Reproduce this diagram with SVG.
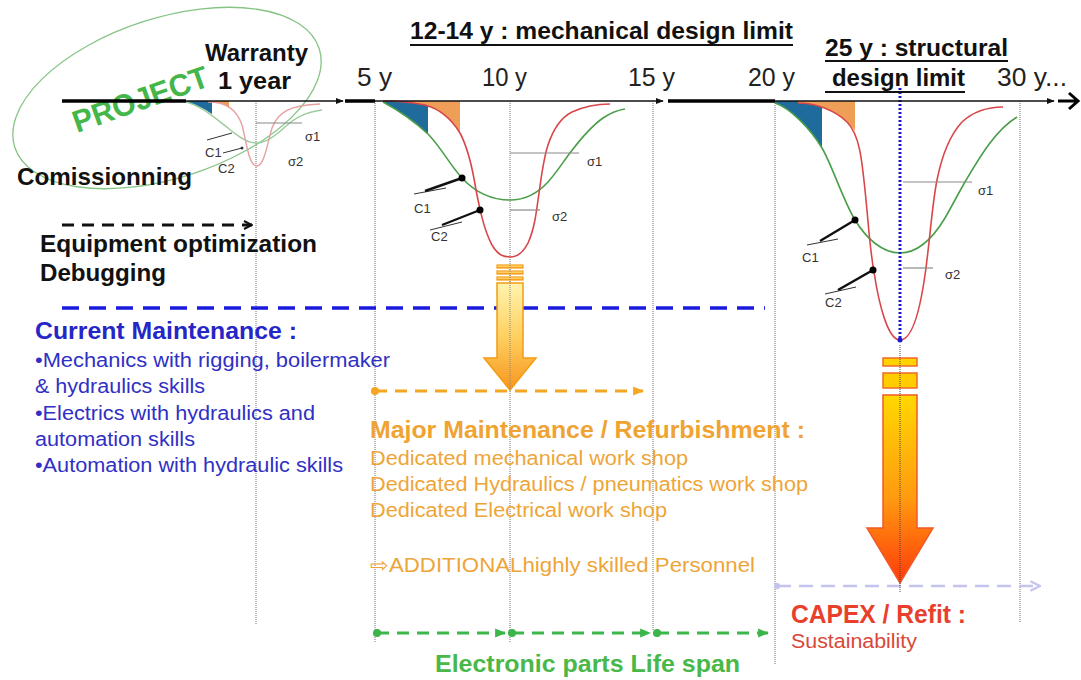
<svg xmlns="http://www.w3.org/2000/svg" width="1081" height="680" viewBox="0 0 1081 680">
<style>
text{font-family:"Liberation Sans",Arial,sans-serif}
.b{font-weight:bold}
.ax{font-size:25px;fill:#222}
.hd{font-size:24px;font-weight:bold;fill:#111}
.bl{font-size:20px;fill:#3030c4}
.or{font-size:20px;fill:#eea538}
.sm{font-size:13px;fill:#333}
.grid{stroke:#a8a8a8;stroke-width:1.6;stroke-dasharray:1 1;fill:none}
.gc{fill:none;stroke:#4a9e4a;stroke-width:1.6}
.rc{fill:none;stroke:#d9474a;stroke-width:1.6}
.gcl{fill:none;stroke:#9ccc9c;stroke-width:1.4}
.rcl{fill:none;stroke:#e6a0a0;stroke-width:1.4}
.sig{stroke:#8a8a8a;stroke-width:1.2}
.cth{stroke:#111;stroke-width:2.4}
.ctn{stroke:#333;stroke-width:1}
.blu{fill:#1f6b9c}
.ora{fill:#ef9e58}
.tl{stroke:#111;stroke-width:1.6}
.tk{stroke:#000;stroke-width:3.5}
</style>
<defs>
<linearGradient id="g1" x1="0" y1="0" x2="0" y2="1">
<stop offset="0" stop-color="#fff4b0"/><stop offset="0.5" stop-color="#ffd060"/><stop offset="1" stop-color="#f7951f"/>
</linearGradient>
<linearGradient id="g2" x1="0" y1="0" x2="0" y2="1">
<stop offset="0" stop-color="#ffd800"/><stop offset="0.55" stop-color="#ff9a10"/><stop offset="1" stop-color="#ff3a0a"/>
</linearGradient>
<marker id="aK" viewBox="0 0 10 10" refX="9" refY="5" markerWidth="10" markerHeight="10" markerUnits="userSpaceOnUse" orient="auto"><path d="M1,1 L9,5 L1,9" fill="none" stroke="#111" stroke-width="2"/></marker>
<marker id="aT" viewBox="0 0 10 10" refX="9" refY="5" markerWidth="8" markerHeight="8" markerUnits="userSpaceOnUse" orient="auto"><path d="M0,1 L10,5 L0,9 z" fill="#111"/></marker>
<marker id="aO" viewBox="0 0 10 10" refX="9" refY="5" markerWidth="11" markerHeight="11" markerUnits="userSpaceOnUse" orient="auto"><path d="M0,1 L10,5 L0,9 z" fill="#f5a623"/></marker>
<marker id="aG" viewBox="0 0 10 10" refX="9" refY="5" markerWidth="11" markerHeight="11" markerUnits="userSpaceOnUse" orient="auto"><path d="M0,1 L10,5 L0,9 z" fill="#3cb54a"/></marker>
<marker id="aL" viewBox="0 0 10 10" refX="9" refY="5" markerWidth="12" markerHeight="12" markerUnits="userSpaceOnUse" orient="auto"><path d="M1,1 L9,5 L1,9" fill="none" stroke="#c4c4ee" stroke-width="2"/></marker>
<marker id="dO" viewBox="0 0 10 10" refX="5" refY="5" markerWidth="9" markerHeight="9" markerUnits="userSpaceOnUse"><circle cx="5" cy="5" r="4.5" fill="#f5a623"/></marker>
<marker id="dG" viewBox="0 0 10 10" refX="5" refY="5" markerWidth="9" markerHeight="9" markerUnits="userSpaceOnUse"><circle cx="5" cy="5" r="4.5" fill="#3cb54a"/></marker>
<marker id="dL" viewBox="0 0 10 10" refX="5" refY="5" markerWidth="7" markerHeight="7" markerUnits="userSpaceOnUse"><circle cx="5" cy="5" r="4.5" fill="#c4c4ee"/></marker>
</defs>
<rect width="1081" height="680" fill="#fff"/>

<g id="gridlines">
<line class="grid" x1="256" y1="101" x2="256" y2="625"/>
<line class="grid" x1="375" y1="101" x2="375" y2="642"/>
<line class="grid" x1="510" y1="101" x2="510" y2="642"/>
<line class="grid" x1="653" y1="101" x2="653" y2="630"/>
<line class="grid" x1="775" y1="101" x2="775" y2="665"/>
<line class="grid" x1="1020" y1="101" x2="1020" y2="622"/>
</g>

<g id="project">
<ellipse cx="167" cy="98" rx="160" ry="80" transform="rotate(-18 167 98)" fill="none" stroke="#86c486" stroke-width="1.3"/>
<text class="b" font-size="31" fill="#45b649" transform="translate(77,133) rotate(-19.5)" textLength="142" lengthAdjust="spacingAndGlyphs">PROJECT</text>
</g>

<g id="curves-small">
<path class="blu" d="M186,101 L212,101 L212,114 C205,109 195,104 186,102 Z"/>
<path class="ora" d="M212,101 L229,101 L229,108 C224,104 218,102 212,102 Z"/>
<path class="gcl" d="M186,102 C200,105 215,118 228,128 C240,138 248,143 256,143 C266,143 275,136 285,127 C295,118 305,112 322,110"/>
<path class="rcl" d="M208,102 C225,102 236,108 242,125 C247,145 249,166 257,166 C264,166 267,145 272,128 C278,112 290,105 320,104"/>
<line class="sig" x1="256" y1="123" x2="302" y2="123"/>
<line class="ctn" x1="207" y1="140" x2="232" y2="133"/>
<line class="ctn" x1="223" y1="153" x2="242" y2="148"/>
<circle cx="242" cy="148" r="1.5" fill="#333"/>
<text class="sm" x="305" y="141" font-size="12">σ1</text>
<text class="sm" x="288" y="166" font-size="12">σ2</text>
<text class="sm" x="205" y="157" font-size="12">C1</text>
<text class="sm" x="218" y="173" font-size="12">C2</text>
</g>

<g id="curves-mid">
<path class="blu" d="M383,101 L428,101 L428,134 C415,122 398,110 383,102 Z"/>
<path class="ora" d="M407,101 L460,101 L460,133 C452,120 440,109 425,105 C415,103 410,102 407,101.5 Z"/>
<path class="gc" d="M383,102 C398,110 415,122 428,134 C440,146 450,165 462,178 C475,192 492,200 510,200 C525,200 537,194 548,182 C557,172 563,162 570,153 C582,137 593,125 603,118 C612,112 618,110 625,109"/>
<path class="rc" d="M383,101 C400,101 410,102 425,105 C440,109 452,120 460,133 C468,148 472,165 476,190 C480,210 484,230 492,245 C498,255 503,257 510,257 C517,257 523,253 528,243 C534,230 536,215 538,200 C541,180 543,160 548,145 C553,130 560,118 572,112 C585,106 598,104 610,104"/>
<line class="sig" x1="510" y1="153" x2="579" y2="153"/>
<line class="sig" x1="510" y1="210" x2="540" y2="210"/>
<line class="ctn" x1="414" y1="194" x2="446" y2="188"/>
<line class="cth" x1="425" y1="191" x2="462" y2="178"/>
<circle cx="462" cy="178" r="3.5" fill="#000"/>
<line class="ctn" x1="430" y1="230" x2="462" y2="222"/>
<line class="cth" x1="442" y1="225" x2="480" y2="210"/>
<circle cx="480" cy="210" r="3.5" fill="#000"/>
<text class="sm" x="587" y="166">σ1</text>
<text class="sm" x="552" y="221">σ2</text>
<text class="sm" x="414" y="213">C1</text>
<text class="sm" x="431" y="241">C2</text>
</g>

<g id="curves-large">
<path class="blu" d="M775,101 L822,101 L822,148 C810,128 790,108 775,103 Z"/>
<path class="ora" d="M798,101 L855,101 L855,131 C852,127 850,125 847,122 C835,110 815,103 798,103 Z"/>
<path class="gc" d="M775,103 C790,108 810,128 822,148 C832,165 843,200 855,220 C866,238 882,253 900,253 C918,253 933,238 945,218 C952,206 958,194 965,182 C978,160 995,130 1017,117"/>
<path class="rc" d="M798,103 C815,103 835,110 847,122 C860,135 862,160 866,200 C869,230 870,250 874,272 C879,305 888,340 900,340 C912,340 920,310 925,275 C930,240 932,205 937,180 C942,155 950,135 962,122 C975,110 990,107 1003,107"/>
<line class="sig" x1="903" y1="182" x2="972" y2="182"/>
<line class="sig" x1="903" y1="268" x2="933" y2="268"/>
<line x1="900" y1="88" x2="900" y2="340" stroke="#1a1ad0" stroke-width="3" stroke-dasharray="2 2"/>
<circle cx="900" cy="340" r="2.5" fill="#1a1ad0"/>
<line class="ctn" x1="807" y1="245" x2="838" y2="239"/>
<line class="cth" x1="820" y1="241" x2="855" y2="220"/>
<circle cx="855" cy="220" r="3.5" fill="#000"/>
<line class="ctn" x1="825" y1="294" x2="856" y2="287"/>
<line class="cth" x1="838" y1="290" x2="873" y2="270"/>
<circle cx="873" cy="270" r="3.5" fill="#000"/>
<text class="sm" x="978" y="195">σ1</text>
<text class="sm" x="945" y="279">σ2</text>
<text class="sm" x="802" y="262">C1</text>
<text class="sm" x="825" y="307">C2</text>
</g>

<g id="connectors">
<line class="tk" x1="62" y1="101" x2="186" y2="101"/>
<line class="tl" x1="186" y1="101" x2="343" y2="101" marker-end="url(#aT)"/>
<line class="tk" x1="345" y1="101" x2="375" y2="101"/>
<line class="tl" x1="375" y1="101" x2="663" y2="101" marker-end="url(#aT)"/>
<line class="tk" x1="668" y1="101" x2="775" y2="101"/>
<line class="tl" x1="775" y1="101" x2="1054" y2="101" marker-end="url(#aT)"/>
<path d="M1058,101 L1078,101 M1069,93 L1078,101 L1069,109" fill="none" stroke="#000" stroke-width="3"/>
<line x1="62" y1="225" x2="252" y2="225" stroke="#111" stroke-width="3" stroke-dasharray="12 8" marker-end="url(#aK)"/>
<line x1="62" y1="308" x2="765" y2="308" stroke="#1a1adc" stroke-width="3.5" stroke-dasharray="17 10"/>
<line x1="375" y1="391" x2="643" y2="391" stroke="#f5a623" stroke-width="3" stroke-dasharray="12 8" marker-start="url(#dO)" marker-end="url(#aO)"/>
<line x1="377" y1="633" x2="505" y2="633" stroke="#3cb54a" stroke-width="3" stroke-dasharray="12 8" marker-start="url(#dG)" marker-end="url(#aG)"/>
<line x1="512" y1="633" x2="650" y2="633" stroke="#3cb54a" stroke-width="3" stroke-dasharray="12 8" marker-start="url(#dG)" marker-end="url(#aG)"/>
<line x1="657" y1="633" x2="768" y2="633" stroke="#3cb54a" stroke-width="3" stroke-dasharray="12 8" marker-start="url(#dG)" marker-end="url(#aG)"/>
<line x1="777" y1="586" x2="1040" y2="586" stroke="#c4c4ee" stroke-width="2.5" stroke-dasharray="14 8" marker-start="url(#dL)" marker-end="url(#aL)"/>
</g>

<g id="arrow-mid">
<rect x="497" y="265" width="26" height="3" fill="url(#g1)" stroke="#f39c12" stroke-width="1.2"/>
<rect x="497" y="271" width="26" height="3" fill="url(#g1)" stroke="#f39c12" stroke-width="1.2"/>
<rect x="497" y="277" width="26" height="3" fill="url(#g1)" stroke="#f39c12" stroke-width="1.2"/>
<path d="M497,283 L523,283 L523,358 L536,358 L510,390 L484,358 L497,358 Z" fill="url(#g1)" stroke="#f39c12" stroke-width="1.5"/>
<line x1="510" y1="265" x2="510" y2="390" stroke="#888" stroke-width="1" stroke-dasharray="1 1"/>
</g>

<g id="arrow-large">
<rect x="883" y="358" width="34" height="8" fill="#ffd200" stroke="#f06a28" stroke-width="1.5"/>
<rect x="883" y="373" width="34" height="15" fill="#ffcc00" stroke="#f06a28" stroke-width="1.5"/>
<path d="M883,395 L917,395 L917,528 L933,528 L900,583 L867,528 L883,528 Z" fill="url(#g2)" stroke="#f05a28" stroke-width="1.5"/>
<line x1="900" y1="345" x2="900" y2="593" stroke="#444" stroke-width="1" stroke-dasharray="1 1"/>
</g>

<g id="title-mech">
<text class="hd" font-size="23" x="410" y="39" textLength="383" lengthAdjust="spacingAndGlyphs">12-14 y : mechanical design limit</text>
<line x1="410" y1="45" x2="793" y2="45" stroke="#111" stroke-width="2"/>
</g>
<g id="title-struct">
<text class="hd" font-size="23" x="825" y="56" textLength="183" lengthAdjust="spacingAndGlyphs">25 y : structural</text>
<line x1="825" y1="61" x2="1008" y2="61" stroke="#111" stroke-width="2"/>
<text class="hd" font-size="23" x="832" y="86" textLength="133" lengthAdjust="spacingAndGlyphs">design limit</text>
<line x1="825" y1="92" x2="965" y2="92" stroke="#111" stroke-width="2"/>
</g>

<g id="axis-labels">
<text class="ax" x="357" y="86" textLength="35" lengthAdjust="spacingAndGlyphs">5 y</text>
<text class="ax" x="482" y="86" textLength="45" lengthAdjust="spacingAndGlyphs">10 y</text>
<text class="ax" x="628" y="86" textLength="47" lengthAdjust="spacingAndGlyphs">15 y</text>
<text class="ax" x="748" y="86" textLength="47" lengthAdjust="spacingAndGlyphs">20 y</text>
<text class="ax" x="997" y="86" textLength="70" lengthAdjust="spacingAndGlyphs">30 y...</text>
</g>

<g id="warranty">
<text class="hd" font-size="25" x="205" y="61" textLength="103" lengthAdjust="spacingAndGlyphs">Warranty</text>
<text class="hd" font-size="25" x="218" y="89" textLength="73" lengthAdjust="spacingAndGlyphs">1 year</text>
</g>
<g id="commissioning">
<text class="hd" x="17" y="185" textLength="175" lengthAdjust="spacingAndGlyphs">Comissionning</text>
</g>
<g id="optimization">
<text class="hd" x="40" y="252" textLength="277" lengthAdjust="spacingAndGlyphs">Equipment optimization</text>
<text class="hd" x="40" y="281" textLength="126" lengthAdjust="spacingAndGlyphs">Debugging</text>
</g>

<g id="current-maintenance">
<text class="b" font-size="24" fill="#2525c8" x="35" y="339" textLength="262" lengthAdjust="spacingAndGlyphs">Current Maintenance :</text>
<text class="bl" x="35" y="367" textLength="355" lengthAdjust="spacingAndGlyphs">•Mechanics with rigging, boilermaker</text>
<text class="bl" x="35" y="393" textLength="170" lengthAdjust="spacingAndGlyphs">&amp; hydraulics skills</text>
<text class="bl" x="35" y="420" textLength="280" lengthAdjust="spacingAndGlyphs">•Electrics with hydraulics and</text>
<text class="bl" x="35" y="446" textLength="160" lengthAdjust="spacingAndGlyphs">automation skills</text>
<text class="bl" x="35" y="472" textLength="308" lengthAdjust="spacingAndGlyphs">•Automation with hydraulic skills</text>
</g>

<g id="major-maintenance">
<text class="b" font-size="23" fill="#efa332" x="370" y="438" textLength="435" lengthAdjust="spacingAndGlyphs">Major Maintenance / Refurbishment :</text>
<text class="or" x="370" y="465" textLength="318" lengthAdjust="spacingAndGlyphs">Dedicated mechanical work shop</text>
<text class="or" x="370" y="491" textLength="438" lengthAdjust="spacingAndGlyphs">Dedicated Hydraulics / pneumatics work shop</text>
<text class="or" x="370" y="517" textLength="297" lengthAdjust="spacingAndGlyphs">Dedicated Electrical work shop</text>
<text class="or" x="370" y="572" textLength="385" lengthAdjust="spacingAndGlyphs">⇨ADDITIONALhighly skilled Personnel</text>
</g>

<g id="capex">
<text class="b" font-size="25" fill="#e8402c" x="791" y="623" textLength="175" lengthAdjust="spacingAndGlyphs">CAPEX / Refit :</text>
<text font-size="20" fill="#d94838" x="791" y="648" textLength="126" lengthAdjust="spacingAndGlyphs">Sustainability</text>
</g>

<g id="electronic">
<text class="b" font-size="24" fill="#48b848" x="435" y="672" textLength="305" lengthAdjust="spacingAndGlyphs">Electronic parts Life span</text>
</g>
</svg>
